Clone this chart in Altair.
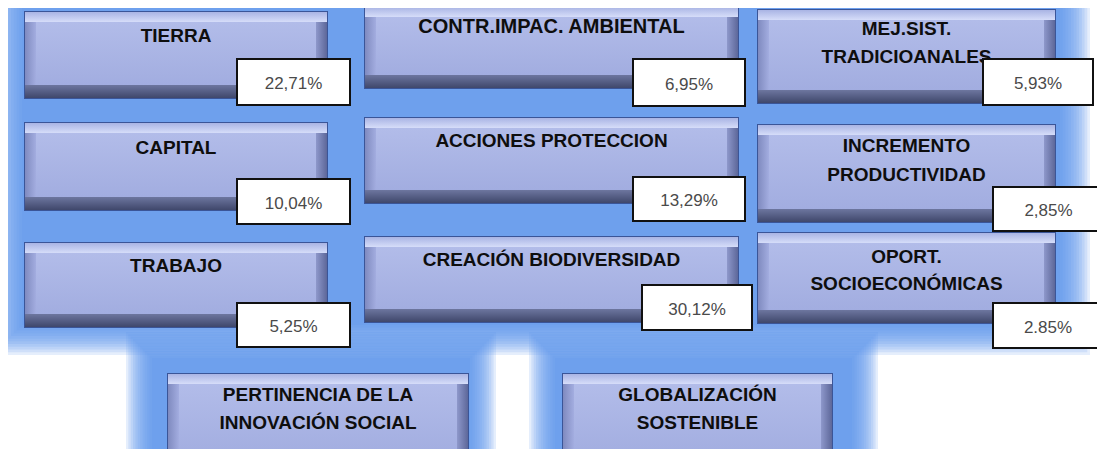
import altair as alt
import pandas as pd

# ---------------- content ----------------
LABELS = [
    ["TIERRA"],
    ["CAPITAL"],
    ["TRABAJO"],
    ["CONTR.IMPAC. AMBIENTAL"],
    ["ACCIONES PROTECCION"],
    ["CREACIÓN BIODIVERSIDAD"],
    ["MEJ.SIST.", "TRADICIOANALES"],
    ["INCREMENTO", "PRODUCTIVIDAD"],
    ["OPORT.", "SOCIOECONÓMICAS"],
    ["PERTINENCIA DE LA", "INNOVACIÓN SOCIAL"],
    ["GLOBALIZACIÓN", "SOSTENIBLE"],
]
VALUES = ["22,71%", "10,04%", "5,25%", "6,95%", "13,29%", "30,12%",
          "5,93%", "2,85%", "2.85%", None, None]

# ---------------- layout (picture pixels) ----------------
BOXES = [
    (25, 327, 12, 98), (25, 327, 123, 210), (25, 327, 243, 327),
    (365, 738, 7, 88), (365, 738, 118, 203), (365, 738, 237, 322),
    (758, 1055, 10, 103), (758, 1055, 125, 222), (758, 1055, 233, 323),
    (168, 468, 374, 470), (563, 832, 374, 470),
]
LINE_Y = [[36], [148], [266], [27], [141], [260], [29, 57], [146, 175],
          [257, 284], [395, 423], [395, 423]]
VALUE_BOXES = [
    (237, 350, 59, 105), (237, 350, 179, 224), (237, 350, 303, 347),
    (633, 745, 59, 106), (633, 745, 177, 221), (642, 752, 285, 330),
    (983, 1093, 59, 105), (993, 1104, 187, 231), (993, 1103, 303, 348),
    None, None,
]
GLOW = [  # core x0, x1, y0, y1, fade
    (22, 1060, -20, 325, 30),
    (152, 470, 358, 480, 26),
    (555, 852, 358, 480, 26),
]
NG = 12

W, H = 1089, 441
xs = alt.Scale(domain=[8, 8 + W], nice=False, zero=False)
ys = alt.Scale(domain=[8, 8 + H], nice=False, zero=False, reverse=True)


def enc_rect():
    return dict(
        x=alt.X("x0:Q", scale=xs, axis=None),
        x2="x1:Q",
        y=alt.Y("y0:Q", scale=ys, axis=None),
        y2="y1:Q",
    )


def grad(c1, c2, vertical=True):
    return alt.Gradient(
        gradient="linear",
        stops=[alt.GradientStop(color=c1, offset=0),
               alt.GradientStop(color=c2, offset=1)],
        x1=0, y1=0, x2=0 if vertical else 1, y2=1 if vertical else 0,
    )


# glow background (soft edges from stacked translucent rects)
glow_rows = []
for (x0, x1, y0, y1, f) in GLOW:
    for k in range(NG):
        e = f * k / (NG - 1)
        glow_rows.append(dict(x0=x0 - e, x1=x1 + e, y0=y0 - e, y1=y1 + e,
                              op=0.16, k=k))
glow_df = pd.DataFrame(glow_rows).sort_values("k", ascending=False)
glow = alt.Chart(glow_df).mark_rect(color="#5e93ee", clip=True).encode(
    **enc_rect(), opacity=alt.Opacity("op:Q", scale=None, legend=None))

# boxes with bevel
TB, BB, SB = 10, 13, 11
outer, top, left, right, bottom, face = [], [], [], [], [], []
for (x0, x1, y0, y1) in BOXES:
    outer.append(dict(x0=x0, x1=x1, y0=y0, y1=y1))
    top.append(dict(x0=x0, x1=x1, y0=y0, y1=y0 + TB))
    left.append(dict(x0=x0, x1=x0 + SB, y0=y0 + TB, y1=y1 - BB))
    right.append(dict(x0=x1 - SB, x1=x1, y0=y0 + TB, y1=y1 - BB))
    bottom.append(dict(x0=x0, x1=x1, y0=y1 - BB, y1=y1))
    face.append(dict(x0=x0 + SB, x1=x1 - SB, y0=y0 + TB, y1=y1 - BB))

layers = [glow]
layers.append(alt.Chart(pd.DataFrame(outer)).mark_rect(
    fill="#4a5381", stroke="#3a5598", strokeWidth=2, clip=True).encode(**enc_rect()))
layers.append(alt.Chart(pd.DataFrame(top)).mark_rect(
    fill=grad("#a9b4e4", "#d6ddf9"), clip=True).encode(**enc_rect()))
layers.append(alt.Chart(pd.DataFrame(left)).mark_rect(
    fill=grad("#7f8abf", "#a3ade0", vertical=False), clip=True).encode(**enc_rect()))
layers.append(alt.Chart(pd.DataFrame(right)).mark_rect(
    fill=grad("#8e98cb", "#5d6799", vertical=False), clip=True).encode(**enc_rect()))
layers.append(alt.Chart(pd.DataFrame(bottom)).mark_rect(
    fill=grad("#6d769f", "#3f476b"), clip=True).encode(**enc_rect()))
layers.append(alt.Chart(pd.DataFrame(face)).mark_rect(
    fill=grad("#b2bce9", "#a2ade0"), clip=True).encode(**enc_rect()))

# labels
lab_rows = []
for i, lines in enumerate(LABELS):
    x0, x1, _, _ = BOXES[i]
    for t, yy in zip(lines, LINE_Y[i]):
        lab_rows.append(dict(x=(x0 + x1) / 2, y=yy, text=t,
                             fs=20 if "CONTR" in t else 19))
layers.append(alt.Chart(pd.DataFrame(lab_rows)).mark_text(
    font="Arial, Liberation Sans, sans-serif", fontWeight="bold",
    baseline="middle", align="center", color="#0e0e0e").encode(
    x=alt.X("x:Q", scale=xs, axis=None), y=alt.Y("y:Q", scale=ys, axis=None),
    text="text:N", size=alt.Size("fs:Q", scale=None, legend=None)))

# value boxes
vb_rows, vt_rows = [], []
for i, v in enumerate(VALUES):
    if v is None:
        continue
    x0, x1, y0, y1 = VALUE_BOXES[i]
    vb_rows.append(dict(x0=x0, x1=x1, y0=y0, y1=y1))
    vt_rows.append(dict(x=(x0 + x1) / 2, y=(y0 + y1) / 2 + 2, text=v))
layers.append(alt.Chart(pd.DataFrame(vb_rows)).mark_rect(
    fill="white", stroke="#111111", strokeWidth=2).encode(**enc_rect()))
layers.append(alt.Chart(pd.DataFrame(vt_rows)).mark_text(
    font="Arial, Liberation Sans, sans-serif", fontSize=17,
    baseline="middle", align="center", color="#4a4a4a").encode(
    x=alt.X("x:Q", scale=xs, axis=None), y=alt.Y("y:Q", scale=ys, axis=None),
    text="text:N"))

chart = alt.layer(*layers).properties(
    width=W, height=H, padding=0, autosize="none", background="white"
).configure_view(stroke=None)

chart.save("out.html", embed_options={"renderer": "svg", "actions": False})
